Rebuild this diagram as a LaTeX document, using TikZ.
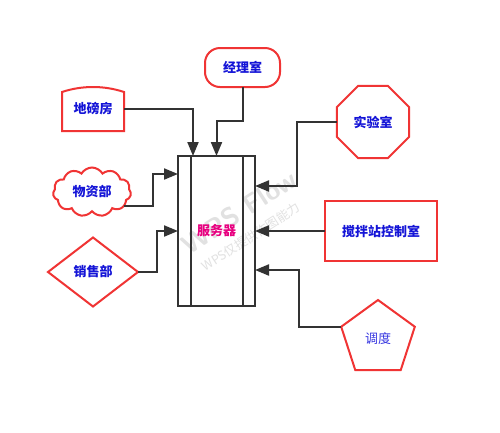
\documentclass[tikz,border=0pt]{standalone}
\usepackage{fontspec}
\newfontfamily\cjk{Noto Sans CJK SC}
\usetikzlibrary{shapes.geometric,shapes.symbols,shapes.misc,arrows.meta,calc}
\definecolor{bred}{RGB}{240,52,52}
\definecolor{tblue}{RGB}{20,20,215}
\definecolor{tblue2}{RGB}{55,55,225}
\definecolor{tpink}{RGB}{232,0,128}
\definecolor{lgray}{RGB}{51,51,51}
\definecolor{wm}{RGB}{225,225,225}
\begin{document}
\begin{tikzpicture}[x=1pt,y=-1pt,
  shp/.style={draw=bred,line width=2pt,inner sep=0pt,outer sep=0pt,
    font=\cjk\bfseries\fontsize{13}{15}\selectfont,text=tblue},
  conn/.style={draw=lgray,line width=2pt,-{Triangle[length=14pt,width=11pt]}},
  wmark/.style={rotate=33,text=wm},
]
\useasboundingbox[fill=white] (0,0) rectangle (500,432);
% watermark
\node[wmark,font=\sffamily\bfseries\fontsize{27}{29}\selectfont] (wm1) at (239,212) {WPS Flow};
\node[wmark,font=\cjk\fontsize{12.5}{14}\selectfont] (wm2) at (251,237) {WPS仅提供作图能力};
% server
\node[draw=lgray,line width=2pt,inner sep=0pt,outer sep=0pt,minimum width=77,minimum height=150,
  font=\cjk\bfseries\fontsize{13}{15}\selectfont,text=tpink] (srv) at (216.5,231) {服务器};
\draw[lgray,line width=2pt] ($(srv.north west)+(13,0)$) -- ($(srv.south west)+(13,0)$);
\draw[lgray,line width=2pt] ($(srv.north east)+(-12,0)$) -- ($(srv.south east)+(-12,0)$);
% shapes
\node[shp,rectangle,rounded corners=15pt,minimum width=75,minimum height=39] (jls) at (242.5,67.5) {经理室};
\node[shp,draw=none,minimum width=62,minimum height=44] (dbf) at (93,109) {地磅房};
\draw[bred,line width=2pt,line join=miter] ($(dbf.north west)+(0,5)$) -- (dbf.south west) -- (dbf.south east)
  -- ($(dbf.north east)+(0,5)$) .. controls +(-20,-6.67) and +(20,-6.67) .. ($(dbf.north west)+(0,5)$) -- cycle;
\node[shp,regular polygon,regular polygon sides=8,minimum size=78] (sys) at (373,122) {实验室};
\node[shp,cloud,cloud puffs=11,cloud puff arc=120,aspect=1.6,minimum width=78,minimum height=49] (wzb) at (92,192) {物资部};
\node[shp,rectangle,minimum width=112,minimum height=60] (jbz) at (381,231) {搅拌站控制室};
\node[shp,diamond,minimum width=90,minimum height=69] (xsb) at (93,272) {销售部};
\node[shp,regular polygon,regular polygon sides=5,minimum size=77.4,
  font=\cjk\fontsize{13}{15}\selectfont,text=tblue2] (dd) at (378,338.7) {调度};
% connectors
\draw[conn] (dbf.east) -| ($(srv.north west)+(15,0)$);
\draw[conn] (jls.south) -- ++(0,34) -| (srv.north);
\draw[conn] (wzb.-23) -| (153,174) -- ($(srv.north west)+(0,18)$);
\draw[conn] (xsb.east) -| (157,231) -- (srv.west);
\draw[conn] (sys.west) -| (297,186) -- ($(srv.north east)+(0,30)$);
\draw[conn] (jbz.west) -- (srv.east);
\draw[conn] (dd.162) -| (299,270) -- ($(srv.north east)+(0,114)$);
\end{tikzpicture}
\end{document}
